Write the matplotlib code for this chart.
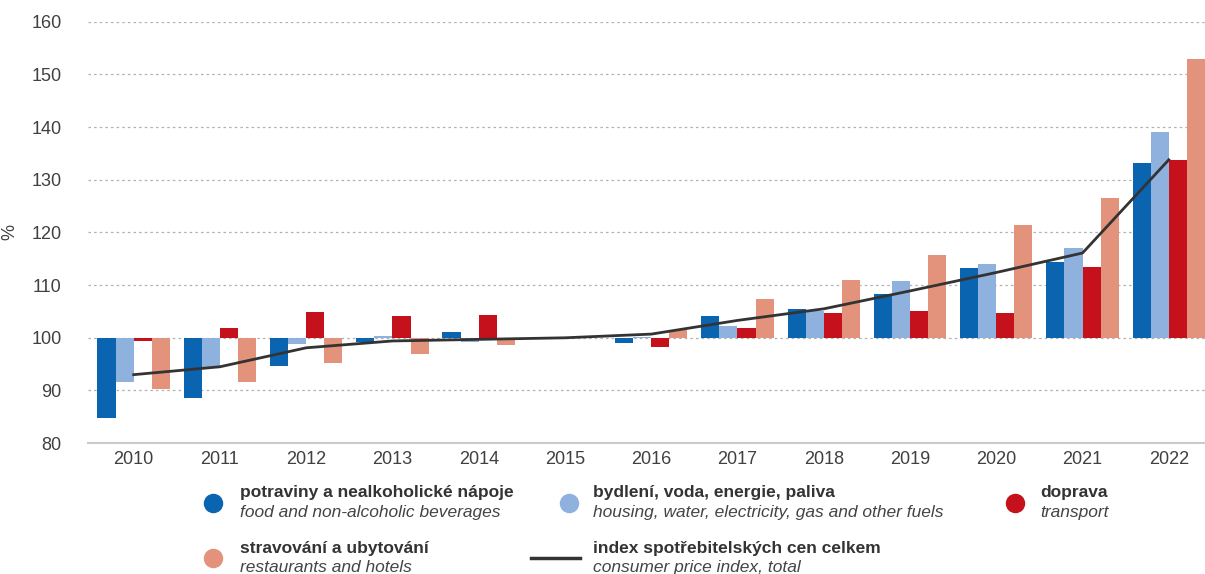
import numpy as np
import matplotlib.pyplot as plt
from matplotlib.lines import Line2D

years = [2010, 2011, 2012, 2013, 2014, 2015, 2016, 2017, 2018, 2019, 2020, 2021, 2022]
food = [84.7, 88.5, 94.7, 99.2, 101.1, 100.0, 99.1, 104.2, 105.5, 108.4, 113.3, 114.3, 133.1]
housing = [91.6, 94.2, 98.9, 100.3, 99.2, 100.0, 100.2, 102.2, 105.0, 110.7, 114.0, 117.1, 139.1]
transport = [99.4, 101.9, 104.9, 104.1, 104.3, 100.0, 98.3, 101.8, 104.8, 105.1, 104.8, 113.5, 133.8]
restaurants = [90.3, 91.6, 95.3, 97.0, 98.7, 100.0, 101.5, 107.3, 111.0, 115.7, 121.4, 126.5, 153.0]
cpi = [93.0, 94.5, 98.1, 99.4, 99.7, 100.0, 100.7, 103.3, 105.5, 108.9, 112.4, 116.1, 133.8]

series = [
    (food, '#0a64b0', 'potraviny a nealkoholické nápoje', 'food and non-alcoholic beverages'),
    (housing, '#8fb1de', 'bydlení, voda, energie, paliva', 'housing, water, electricity, gas and other fuels'),
    (transport, '#c4111b', 'doprava', 'transport'),
    (restaurants, '#e3937b', 'stravování a ubytování', 'restaurants and hotels'),
]
cpi_label = ('index spotřebitelských cen celkem', 'consumer price index, total')

plt.rcParams['font.family'] = ['Liberation Sans', 'DejaVu Sans']

fig = plt.figure(figsize=(12.05, 5.74), dpi=100)
ax = fig.add_axes([0.073, 0.228, 0.927, 0.734])

x = np.arange(len(years))
w = 0.21
for i, (vals, col, _, _) in enumerate(series):
    v = np.array(vals)
    ax.bar(x + (i - 1.5) * w, v - 100, bottom=100, width=w, color=col, zorder=3)

ax.plot(x, cpi, color='#333333', lw=2, zorder=4)

ax.set_ylim(80, 160)
ax.set_xlim(-0.53, len(years) - 1 + 0.42)
ax.set_yticks(range(80, 161, 10))
ax.set_xticks(x)
ax.set_xticklabels([str(y) for y in years])
ax.tick_params(length=0, labelsize=13, colors='#404040')
ax.tick_params(axis='x', pad=6)
ax.tick_params(axis='y', pad=19)
for yv in range(90, 161, 10):
    ax.axhline(yv, color='#b0b0b0', lw=0.9, ls=(0, (2, 2.5)), zorder=1)
for s in ['top', 'right', 'left']:
    ax.spines[s].set_visible(False)
ax.spines['bottom'].set_color('#c8ccd0')
ax.spines['bottom'].set_linewidth(1.5)
ax.set_ylabel('%', fontsize=13, color='#404040')
ax.yaxis.set_label_coords(-0.062, 0.5)

# legend
def leg_item(xt, yb, handle, bold, ital):
    fig.add_artist(handle)
    fig.text(xt, yb, bold, fontsize=12.5, fontweight='bold', color='#333333', va='center')
    fig.text(xt, yb - 0.034, ital, fontsize=12.5, style='italic', color='#444444', va='center')

r1 = 1 - 493 / 574
r2 = 1 - 548 / 574
pos = [(0.177, 0.199, r1), (0.472, 0.492, r1), (0.842, 0.863, r1), (0.177, 0.199, r2)]
for (vals, col, b, it), (xm, xt, yb) in zip(series, pos):
    h = Line2D([xm], [yb - 0.017], marker='o', ms=13, color=col, ls='none', transform=fig.transFigure)
    leg_item(xt, yb, h, b, it)
h = Line2D([0.441, 0.481], [r2 - 0.017, r2 - 0.017], color='#333333', lw=2.5, transform=fig.transFigure)
leg_item(0.492, r2, h, cpi_label[0], cpi_label[1])

fig.savefig('out.png', dpi=100)
